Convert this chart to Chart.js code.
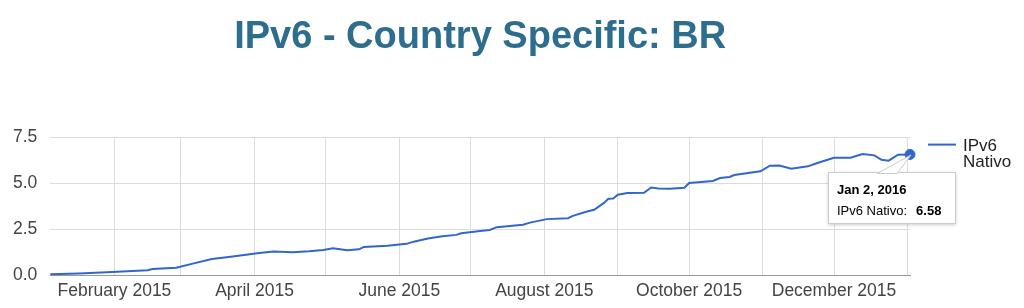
<!DOCTYPE html>
<html>
<head>
<meta charset="utf-8">
<script src="https://cdn.jsdelivr.net/npm/chart.js@4/dist/chart.umd.min.js"></script>
<style>
  html, body { margin: 0; padding: 0; background: #fff; }
  #wrap { position: relative; width: 1024px; height: 308px; }
  #tip {
    position: absolute; display: none; box-sizing: border-box;
    width: 128px; height: 52px; background: #fff;
    border: 1px solid #ccc; box-shadow: 0 1px 3px rgba(0,0,0,0.2);
    font-family: "Liberation Sans", Arial, sans-serif; font-size: 13px; color: #000;
    padding: 9px 0 0 8px;
  }
  #tip .t { font-weight: bold; margin-bottom: 6px; }
  #tip .v { font-weight: bold; margin-left: 9px; }
  #tip svg { position: absolute; left: 0; top: -19px; overflow: visible; }
</style>
</head>
<body>
<div id="wrap">
  <canvas id="myChart" width="1024" height="308"></canvas>
  <div id="tip"></div>
</div>
<script>
// Sample data
var dates = [
  '2015-01-05', '2015-01-17', '2015-01-31', '2015-02-15', '2015-02-17', '2015-02-27',
  '2015-03-06', '2015-03-14', '2015-03-22', '2015-03-30', '2015-04-03', '2015-04-09',
  '2015-04-17', '2015-04-24', '2015-04-30', '2015-05-04', '2015-05-10', '2015-05-15',
  '2015-05-17', '2015-05-27', '2015-06-04', '2015-06-07', '2015-06-13', '2015-06-19',
  '2015-06-25', '2015-06-27', '2015-07-05', '2015-07-09', '2015-07-12', '2015-07-23',
  '2015-07-26', '2015-08-02', '2015-08-11', '2015-08-13', '2015-08-19', '2015-08-22',
  '2015-08-26', '2015-08-28', '2015-08-30', '2015-09-01', '2015-09-05', '2015-09-12',
  '2015-09-15', '2015-09-18', '2015-09-23', '2015-09-29', '2015-10-01', '2015-10-11',
  '2015-10-14', '2015-10-18', '2015-10-20', '2015-10-31', '2015-11-04', '2015-11-08',
  '2015-11-13', '2015-11-20', '2015-11-24', '2015-12-01', '2015-12-08', '2015-12-13',
  '2015-12-18', '2015-12-21', '2015-12-24', '2015-12-28', '2016-01-02'
];
var nativo = [
  0.04, 0.08, 0.16, 0.26, 0.33, 0.40,
  0.62, 0.87, 1.00, 1.13, 1.20, 1.28,
  1.24, 1.30, 1.37, 1.46, 1.35, 1.40,
  1.53, 1.60, 1.70, 1.82, 1.99, 2.12,
  2.19, 2.28, 2.40, 2.46, 2.61, 2.74,
  2.86, 3.05, 3.10, 3.23, 3.47, 3.56,
  3.92, 4.16, 4.18, 4.38, 4.47, 4.49,
  4.78, 4.72, 4.71, 4.76, 5.02, 5.13,
  5.29, 5.35, 5.46, 5.66, 5.97, 5.98,
  5.80, 5.93, 6.11, 6.40, 6.40, 6.60,
  6.53, 6.29, 6.24, 6.57, 6.58
];
var yTicks = [0, 2.5, 5, 7.5];
var monthTicks = [
  '2015-02-01', '2015-03-01', '2015-04-01', '2015-05-01', '2015-06-01', '2015-07-01',
  '2015-08-01', '2015-09-01', '2015-10-01', '2015-11-01', '2015-12-01', '2016-01-01'
];
var seriesName = 'IPv6 Nativo';

var monthLong = ['January', 'February', 'March', 'April', 'May', 'June', 'July',
  'August', 'September', 'October', 'November', 'December'];
var monthShort = ['Jan', 'Feb', 'Mar', 'Apr', 'May', 'Jun', 'Jul', 'Aug', 'Sep', 'Oct', 'Nov', 'Dec'];
var FONT = '"Liberation Sans", Arial, sans-serif';
var BLUE = '#3366cc';

var points = dates.map(function (d, i) { return { x: Date.parse(d), y: nativo[i] }; });

// Two-line legend on the right
var sideLegend = {
  id: 'sideLegend',
  afterDraw: function (chart) {
    var ctx = chart.ctx;
    var area = chart.chartArea;
    var x = area.right + 18;
    var y = area.top + 7;
    ctx.save();
    ctx.strokeStyle = BLUE;
    ctx.lineWidth = 2;
    ctx.beginPath();
    ctx.moveTo(x, y);
    ctx.lineTo(x + 28, y);
    ctx.stroke();
    ctx.fillStyle = '#222';
    ctx.font = '17px ' + FONT;
    ctx.textBaseline = 'alphabetic';
    seriesName.split(' ').forEach(function (word, i) {
      ctx.fillText(word, x + 35, y + 6 + i * 16.7);
    });
    ctx.restore();
  }
};

function externalTip(context) {
  var tip = document.getElementById('tip');
  var model = context.tooltip;
  if (model.opacity === 0 || !model.dataPoints || !model.dataPoints.length) {
    tip.style.display = 'none';
    return;
  }
  var dp = model.dataPoints[0];
  var d = new Date(dp.parsed.x);
  var title = monthShort[d.getUTCMonth()] + ' ' + d.getUTCDate() + ', ' + d.getUTCFullYear();
  tip.innerHTML =
    '<svg width="128" height="20"><polygon points="48,19.5 68,19.5 82,1" ' +
    'fill="#fff" stroke="#ccc" stroke-width="1"/></svg>' +
    '<div class="t">' + title + '</div>' +
    '<div>' + dp.dataset.label + ':<span class="v">' + dp.parsed.y.toFixed(2) + '</span></div>';
  tip.style.display = 'block';
  tip.style.left = (model.caretX - 82) + 'px';
  tip.style.top = (model.caretY + 18) + 'px';
}

var ctx = document.getElementById('myChart').getContext('2d');

var myLineChart = new Chart(ctx, {
  type: 'line',
  data: {
    datasets: [{
      label: seriesName,
      data: points,
      borderColor: BLUE,
      backgroundColor: BLUE,
      borderWidth: 2,
      tension: 0,
      pointRadius: 0,
      pointHoverRadius: 5,
      pointHoverBackgroundColor: BLUE,
      pointHoverBorderColor: BLUE,
      pointHoverBorderWidth: 1,
      clip: false
    }]
  },
  options: {
    responsive: false,
    animation: false,
    layout: { padding: { left: 0, right: 114, top: 0, bottom: 0 } },
    plugins: {
      legend: { display: false },
      title: {
        display: true,
        text: 'IPv6 - Country Specific: BR',
        fullSize: false,
        color: '#2d6d8e',
        font: { family: FONT, size: 38, weight: 'bold' },
        padding: { top: 15, bottom: 77 }
      },
      tooltip: { enabled: false, external: externalTip }
    },
    scales: {
      x: {
        type: 'linear',
        min: Date.parse(dates[0]),
        max: Date.parse(dates[dates.length - 1]),
        afterBuildTicks: function (scale) {
          scale.ticks = monthTicks.map(function (m) { return { value: Date.parse(m) }; });
        },
        grid: { color: '#dcdcdc', drawTicks: false },
        border: { display: true, color: '#999', width: 1 },
        ticks: {
          autoSkip: false,
          maxRotation: 0,
          padding: 6,
          color: '#444',
          font: { family: FONT, size: 17.5 },
          callback: function (v) {
            var d = new Date(v);
            var m = d.getUTCMonth();
            return m % 2 === 1 ? monthLong[m] + ' ' + d.getUTCFullYear() : '';
          }
        }
      },
      y: {
        min: 0,
        max: 7.5,
        afterBuildTicks: function (scale) {
          scale.ticks = yTicks.map(function (v) { return { value: v }; });
        },
        grid: { color: '#dcdcdc', drawTicks: false },
        border: { display: false },
        ticks: {
          padding: 13,
          color: '#444',
          font: { family: FONT, size: 17.5 },
          callback: function (v) { return v.toFixed(1); }
        }
      }
    }
  },
  plugins: [sideLegend]
});

var last = [{ datasetIndex: 0, index: nativo.length - 1 }];
myLineChart.setActiveElements(last);
myLineChart.tooltip.setActiveElements(last, { x: 0, y: 0 });
myLineChart.update();
</script>
</body>
</html>
